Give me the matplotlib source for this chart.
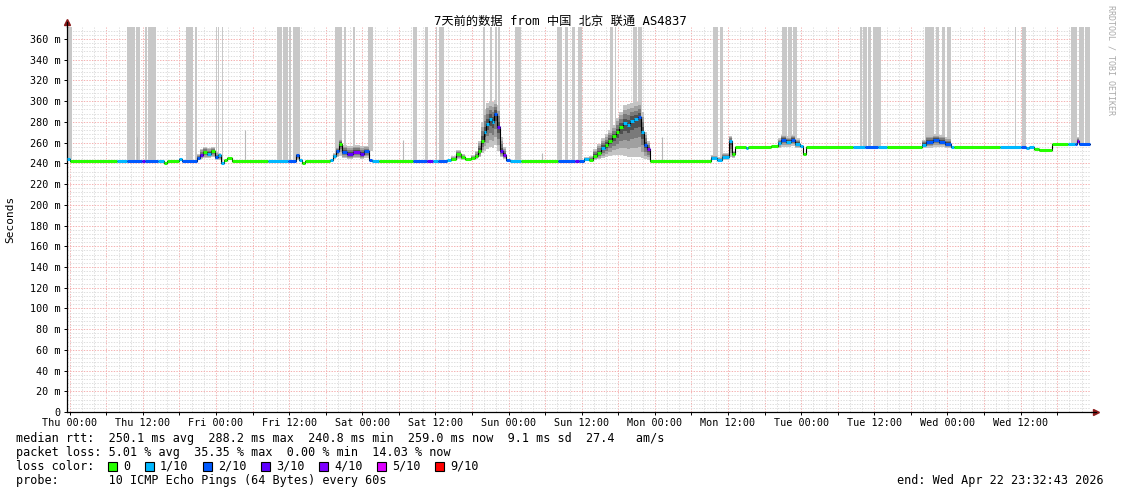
import numpy as np
import matplotlib
matplotlib.use('Agg')
import matplotlib.pyplot as plt
from matplotlib.patches import Rectangle

plt.rcParams['font.family'] = ['DejaVu Sans Mono', 'Noto Sans CJK SC']

# ---- data (time in hours since start, start = Wed 23:32:43) ----
# median rtt as step segments: start hour, rtt (ms), packets lost out of 10
seg_start = [0.0, 0.5, 8.2, 9.8, 12.3, 12.8, 14.9, 15.9, 16.4, 18.3,
             18.8, 21.3, 21.8, 22.3, 23.0, 23.6, 24.3, 24.8, 25.3, 25.8,
             26.3, 27.0, 33.0, 36.3, 37.5, 38.0, 38.5, 39.0, 43.1, 43.6,
             44.1, 44.6, 45.1, 46.0, 47.0, 48.0, 48.8, 49.5, 50.0, 51.2,
             56.7, 59.0, 60.0, 60.8, 62.3, 63.0, 63.8, 64.6, 65.3, 66.3,
             67.0, 67.5, 68.0, 68.4, 68.8, 69.2, 69.7, 70.1, 70.6, 71.0,
             71.5, 72.0, 72.6, 74.5, 80.5, 83.4, 84.0, 84.8, 85.6, 86.3,
             87.0, 87.6, 88.2, 88.8, 89.4, 90.0, 90.6, 91.2, 91.8, 92.4,
             93.0, 93.6, 94.2, 94.7, 95.2, 95.7, 105.6, 106.6, 107.5, 108.6,
             109.1, 109.6, 111.4, 111.8, 115.5, 116.6, 117.2, 118.0, 118.7, 119.4,
             120.2, 120.8, 121.3, 129.0, 131.0, 133.0, 134.6, 140.3, 141.0, 142.0,
             143.0, 144.0, 145.0, 145.5, 153.0, 156.5, 157.3, 157.8, 158.7, 159.5,
             161.6, 164.2, 165.4, 165.7, 166.0]
data_end = 167.8
seg_rtt = [244, 242.5, 242.5, 242.5, 242.5, 242.5, 242.5, 240.5, 242.5, 244.5,
           242.5, 245, 248, 251, 249.5, 251.5, 246, 248, 240.5, 243,
           245, 242.5, 242.5, 242.5, 248, 243, 240.5, 242.5, 243, 247,
           252, 259, 251, 249, 251, 249, 251.5, 243, 242.5, 242.5,
           242.5, 242.5, 242.5, 242.5, 243, 244, 249, 246, 244, 245,
           247, 252, 262, 270, 278, 283, 280, 288, 275, 252,
           248, 243, 242.5, 242.5, 242.5, 242.5, 242.5, 244, 243, 247,
           250, 255, 258, 262, 266, 270, 275, 279, 277, 281,
           283, 285, 270, 258, 254, 242, 245, 243, 246, 262,
           249, 256, 255, 256, 257, 260, 263, 261, 263, 259,
           257, 249, 256, 256, 256, 256, 256, 258, 261, 263,
           261, 259, 256, 256, 256, 256, 255, 256, 254, 253,
           259, 259, 259, 262, 259]
seg_loss = [1, 0, 1, 2, 3, 2, 1, 0, 0, 1,
            2, 2, 3, 0, 1, 0, 2, 1, 1, 0,
            0, 0, 1, 2, 2, 1, 0, 0, 1, 1,
            2, 0, 2, 3, 4, 3, 2, 2, 1, 0,
            2, 3, 1, 2, 1, 0, 0, 0, 0, 0,
            0, 0, 0, 1, 1, 1, 1, 2, 3, 3,
            4, 2, 1, 0, 2, 3, 2, 1, 0, 0,
            0, 1, 0, 0, 0, 0, 0, 1, 1, 1,
            1, 2, 1, 2, 4, 0, 1, 1, 1, 1,
            0, 0, 1, 0, 0, 1, 2, 1, 2, 1,
            1, 0, 0, 1, 2, 1, 0, 1, 2, 2,
            2, 2, 1, 0, 1, 2, 1, 1, 0, 0,
            0, 1, 2, 4, 2]

# smoke (spread of the 10 pings): start, end, low, high (ms)
smoke_start = [21.3, 21.8, 22.3, 23.0, 23.6, 24.3, 24.8, 37.5,
               43.6, 44.1, 44.6, 45.1, 46.0, 47.0, 48.0, 48.8,
               63.0, 63.8, 64.6, 66.3,
               67.0, 67.5, 68.0, 68.4, 68.8, 69.2, 69.7, 70.1, 70.6, 71.0, 71.5,
               84.8, 85.6, 86.3, 87.0, 87.6, 88.2, 88.8, 89.4, 90.0, 90.6,
               91.2, 91.8, 92.4, 93.0, 93.6, 94.2, 94.7, 95.2,
               105.6, 106.6, 107.5, 108.6, 109.1,
               116.6, 117.2, 118.0, 118.7, 119.4,
               140.3, 141.0, 142.0, 143.0, 144.0, 165.7]
smoke_end = [21.8, 22.3, 23.0, 23.6, 24.3, 24.8, 25.3, 38.0,
             44.1, 44.6, 45.1, 46.0, 47.0, 48.0, 48.8, 49.5,
             63.8, 64.6, 65.3, 67.0,
             67.5, 68.0, 68.4, 68.8, 69.2, 69.7, 70.1, 70.6, 71.0, 71.5, 72.0,
             85.6, 86.3, 87.0, 87.6, 88.2, 88.8, 89.4, 90.0, 90.6, 91.2,
             91.8, 92.4, 93.0, 93.6, 94.2, 94.7, 95.2, 95.7,
             106.6, 107.5, 108.6, 109.1, 109.6,
             117.2, 118.0, 118.7, 119.4, 120.2,
             141.0, 142.0, 143.0, 144.0, 145.0, 166.0]
smoke_lo = [243, 244, 245, 245, 246, 243, 243, 243,
            244, 246, 248, 245, 244, 245, 244, 245,
            243, 244, 243, 243,
            244, 246, 250, 252, 254, 256, 255, 258, 252, 246, 244,
            243, 242, 243, 244, 245, 246, 247, 248, 248, 248,
            247, 246, 246, 246, 246, 245, 244, 243,
            243, 242, 243, 246, 245,
            255, 256, 256, 257, 255,
            255, 255, 256, 256, 255, 259]
smoke_hi = [249, 254, 256, 255, 256, 251, 250, 249,
            250, 256, 264, 258, 257, 258, 257, 257,
            247, 253, 249, 248,
            252, 262, 280, 292, 298, 300, 299, 301, 296, 265, 256,
            246, 247, 254, 259, 264, 268, 272, 277, 284, 290,
            296, 297, 298, 299, 300, 290, 270, 262,
            248, 246, 250, 266, 252,
            264, 267, 266, 267, 264,
            263, 267, 268, 267, 265, 265]

# full-height grey bars (pings off the scale): start, end hour
bar_start = [0.0, 9.8, 11.3, 12.8, 13.3, 13.9, 19.5, 20.2, 21.0, 24.4, 24.7, 25.35,
             34.5, 35.4, 36.5, 37.1, 37.6, 44.0, 45.5, 46.9, 49.4,
             56.8, 58.7, 60.5, 61.0, 61.6, 68.3, 69.4, 70.2, 70.7, 73.5,
             80.4, 81.7, 82.9, 83.8, 89.1, 89.9, 92.9, 93.7,
             106.0, 107.1, 117.3, 118.3, 119.1,
             130.1, 130.6, 131.4, 132.2, 140.8, 142.6, 143.6, 144.4,
             155.5, 156.7, 164.7, 166.0, 167.0, 167.4]
bar_end = [0.8, 11.2, 12.0, 13.1, 13.9, 14.6, 20.2, 20.7, 21.3, 24.6, 24.9, 25.55,
           35.3, 36.3, 36.7, 37.6, 38.2, 45.1, 45.7, 47.3, 50.2,
           57.4, 59.2, 60.7, 61.5, 61.8, 68.6, 69.7, 70.6, 71.0, 74.5,
           81.2, 82.2, 83.3, 84.5, 89.6, 90.1, 93.5, 94.3,
           106.8, 107.6, 118.1, 118.9, 119.8,
           130.4, 131.3, 131.9, 133.5, 142.2, 143.1, 144.1, 145.1,
           155.7, 157.3, 165.7, 166.9, 167.4, 167.8]

# single short ping spikes: hour, top (ms)
spike_h = [11.5, 29.2, 55.1, 78.0, 97.6]
spike_top = [265, 272, 263, 250, 265]

loss_labels = ['0', '1/10', '2/10', '3/10', '4/10', '5/10', '9/10']
loss_colors = {0: '#26ff00', 1: '#00b8ff', 2: '#0059ff', 3: '#5e00ff',
               4: '#7e00ff', 5: '#dd00ff', 9: '#ff0000'}

tick_labels = ['Thu 00:00', 'Thu 12:00', 'Fri 00:00', 'Fri 12:00', 'Sat 00:00',
               'Sat 12:00', 'Sun 00:00', 'Sun 12:00', 'Mon 00:00', 'Mon 12:00',
               'Tue 00:00', 'Tue 12:00', 'Wed 00:00', 'Wed 12:00']
first_midnight = 0.455  # Thu 00:00 in hours after start

W, H = 1121, 494
fig = plt.figure(figsize=(W / 100, H / 100), dpi=100)
ax = fig.add_axes([67 / W, 1 - 412 / H, 1024 / W, 385 / H])
ymax = 371.6
ax.set_xlim(0, 168)
ax.set_ylim(0, ymax)

seg_start = np.array(seg_start)
seg_rtt = np.array(seg_rtt)
seg_end = np.append(seg_start[1:], data_end)


def median_at(h):
    i = np.clip(np.searchsorted(seg_start, h, side='right') - 1, 0, len(seg_rtt) - 1)
    return seg_rtt[i]


# grey bars
for s, e in zip(bar_start, bar_end):
    b = median_at(s)
    ax.bar(s, ymax - b, width=e - s, bottom=b, align='edge', color='#c8c8c8',
           linewidth=0, zorder=1)
for h, t in zip(spike_h, spike_top):
    ax.vlines(h, median_at(h), t, color='#b8b8b8', lw=0.8, zorder=1)

# smoke, lighter on the outside
shades = [(1.0, '#c4c4c4'), (0.75, '#a0a0a0'), (0.5, '#7a7a7a'), (0.25, '#505050')]
for f, col in shades:
    for s, e, lo, hi in zip(smoke_start, smoke_end, smoke_lo, smoke_hi):
        m = median_at(s)
        a = m - f * (m - lo)
        b = m + f * (hi - m)
        ax.bar(s, b - a, width=e - s, bottom=a, align='edge', color=col,
               linewidth=0, zorder=2)

# median: thin black step then loss-coloured segments
ax.step(np.append(seg_start, data_end), np.append(seg_rtt, seg_rtt[-1]),
        where='post', color='black', lw=0.8, zorder=3)
ax.hlines(seg_rtt, seg_start, seg_end, colors=[loss_colors[l] for l in seg_loss],
          lw=2.2, zorder=4)

# grid
ax.set_axisbelow(True)
ax.set_yticks(np.arange(0, 361, 20))
ax.set_yticks(np.arange(0, ymax, 4), minor=True)
ax.set_yticklabels(['0'] + [f'{v} m' for v in range(20, 361, 20)])
maj = first_midnight + np.arange(0, 168, 6)
ax.set_xticks(maj[maj < 168])
ax.set_xticklabels([tick_labels[i // 2] if i % 2 == 0 else '' for i in range(len(maj[maj < 168]))])
mino = first_midnight + np.arange(0, 168, 2)
ax.set_xticks(mino[mino < 168], minor=True)
ax.grid(which='major', color='#f4b0b0', lw=0.7, ls=(0, (1.4, 1.4)))
ax.grid(which='minor', color='#dddddd', lw=0.7, ls=(0, (1.4, 1.4)))
ax.tick_params(which='major', length=2.5, width=0.7, labelsize=7.3, pad=2, colors='black')
ax.tick_params(which='minor', length=0)
for sp in ['top', 'right']:
    ax.spines[sp].set_visible(False)
for sp in ['left', 'bottom']:
    ax.spines[sp].set_linewidth(0.9)
ax.plot([0], [1.013], marker='^', color='#8b1a1a', ms=4, transform=ax.transAxes, clip_on=False)
ax.plot([1.005], [0], marker='>', color='#8b1a1a', ms=4, transform=ax.transAxes, clip_on=False)
ax.plot([0, 0], [1.0, 1.013], color='black', lw=0.9, transform=ax.transAxes, clip_on=False)
ax.plot([1.0, 1.005], [0, 0], color='black', lw=0.9, transform=ax.transAxes, clip_on=False)

# texts
fig.text(0.5, 1 - 21 / H, '7天前的数据 from 中国 北京 联通 AS4837', ha='center', va='center', fontsize=8.8)
fig.text(10 / W, 1 - 219 / H, 'Seconds', rotation=90, ha='center', va='center', fontsize=8)
fig.text(1111 / W, 1 - 60 / H, 'RRDTOOL / TOBI OETIKER', rotation=270, ha='center', va='center',
         fontsize=6, color='#aaaaaa')

fs = 8.5
fig.text(16 / W, 1 - 438 / H,
         'median rtt:  250.1 ms avg  288.2 ms max  240.8 ms min  259.0 ms now  9.1 ms sd  27.4   am/s',
         va='center', fontsize=fs)
fig.text(16 / W, 1 - 452 / H, 'packet loss: 5.01 % avg  35.35 % max  0.00 % min  14.03 % now',
         va='center', fontsize=fs)
fig.text(16 / W, 1 - 466 / H, 'loss color:', va='center', fontsize=fs)
fig.text(16 / W, 1 - 480 / H, 'probe:       10 ICMP Echo Pings (64 Bytes) every 60s', va='center', fontsize=fs)
fig.text(1104 / W, 1 - 480 / H, 'end: Wed Apr 22 23:32:43 2026', ha='right', va='center', fontsize=fs)

cw = 7.0
x = 108
for lab, key in zip(loss_labels, [0, 1, 2, 3, 4, 5, 9]):
    fig.patches.append(Rectangle((x / W, 1 - 470.5 / H), 9 / W, 9 / H, transform=fig.transFigure,
                                 facecolor=loss_colors[key], edgecolor='black', lw=0.8))
    fig.text((x + 15) / W, 1 - 466 / H, lab, va='center', fontsize=fs)
    x += 15 + cw * len(lab) + 15

fig.savefig('out.png', dpi=100, facecolor='white')
